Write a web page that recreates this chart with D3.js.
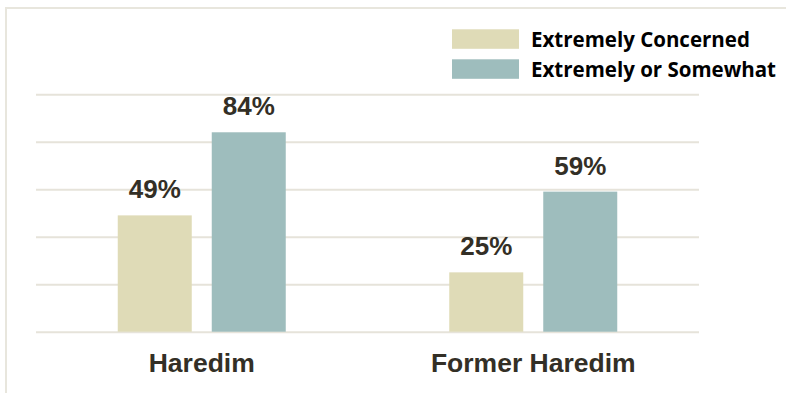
<!DOCTYPE html>
<html>
<head>
<meta charset="utf-8">
<script src="https://cdn.jsdelivr.net/npm/d3@7"></script>
<style>
  html, body { margin: 0; padding: 0; background: #ffffff; }
  svg { display: block; }
</style>
</head>
<body>
<svg id="chart" width="786" height="393"></svg>
<script>
// ---- Data ----
const categories = ["Haredim", "Former Haredim"];
const seriesNames = ["Extremely Concerned", "Extremely or Somewhat"];
const extremelyConcerned = [49, 25];
const extremelyOrSomewhat = [84, 59];
const gridTicks = [0, 20, 40, 60, 80, 100];

const seriesColors = ["#dfdbb7", "#9ebdbd"];
const table = categories.map((c, i) => ({
  category: c,
  values: [
    { key: seriesNames[0], value: extremelyConcerned[i] },
    { key: seriesNames[1], value: extremelyOrSomewhat[i] }
  ]
}));

const svg = d3.select("#chart");
const W = 786, H = 393;
const plot = { left: 36, right: 699, top: 94.3, bottom: 331.7 };

// Frame
svg.append("line").attr("x1", 6).attr("x2", W).attr("y1", 8).attr("y2", 8)
  .attr("stroke", "#e8e6dd").attr("stroke-width", 2);
svg.append("line").attr("x1", 6).attr("x2", 6).attr("y1", 7).attr("y2", H)
  .attr("stroke", "#e8e6dd").attr("stroke-width", 2);

const x0 = d3.scaleBand().domain(categories).range([plot.left, plot.right]).padding(0);
const y = d3.scaleLinear().domain([0, 100]).range([plot.bottom, plot.top]);
const groupHalf = 84;
const x1 = d3.scaleBand().domain(seriesNames)
  .range([x0.bandwidth() / 2 - groupHalf, x0.bandwidth() / 2 + groupHalf])
  .paddingInner(20 / 94).paddingOuter(0);
const color = d3.scaleOrdinal().domain(seriesNames).range(seriesColors);

// Gridlines via axis
const yAxis = d3.axisLeft(y).tickValues(gridTicks)
  .tickSize(-(plot.right - plot.left)).tickFormat("");
const gy = svg.append("g").attr("transform", `translate(${plot.left},0)`).call(yAxis);
gy.select(".domain").remove();
gy.selectAll(".tick line").attr("stroke", "#e6e3da").attr("stroke-width", 2);

// Bars
const groups = svg.append("g").selectAll("g").data(table).join("g")
  .attr("transform", d => `translate(${x0(d.category)},0)`);

groups.selectAll("rect").data(d => d.values).join("rect")
  .attr("x", d => x1(d.key))
  .attr("width", x1.bandwidth())
  .attr("y", d => y(d.value))
  .attr("height", d => y(0) - y(d.value))
  .attr("fill", d => color(d.key));

groups.selectAll("text.val").data(d => d.values).join("text")
  .attr("class", "val")
  .attr("x", d => x1(d.key) + x1.bandwidth() / 2)
  .attr("y", d => y(d.value) - 17)
  .attr("text-anchor", "middle")
  .attr("font-family", "Liberation Sans, Arial, sans-serif")
  .attr("font-weight", "bold")
  .attr("font-size", 26)
  .attr("fill", "#332f26")
  .text(d => d.value + "%");

// Category axis
const xAxis = d3.axisBottom(x0).tickSize(0).tickPadding(0);
const gx = svg.append("g").attr("transform", `translate(0,${plot.bottom})`).call(xAxis);
gx.select(".domain").remove();
gx.selectAll(".tick text")
  .attr("dy", null)
  .attr("y", 40.5)
  .attr("font-family", "Liberation Sans, Arial, sans-serif")
  .attr("font-weight", "bold")
  .attr("font-size", 26.5)
  .attr("fill", "#332f26");

// Legend
const legend = svg.append("g").selectAll("g").data(seriesNames).join("g")
  .attr("transform", (d, i) => `translate(452,${29.3 + i * 30})`);
legend.append("rect").attr("width", 67).attr("height", 19.5).attr("fill", d => color(d));
legend.append("text")
  .attr("x", 79).attr("y", 17.6)
  .attr("font-family", "Open Sans, sans-serif")
  .attr("font-weight", "bold")
  .attr("font-size", 20.5)
  .attr("fill", "#000")
  .text(d => d);
</script>
</body>
</html>
